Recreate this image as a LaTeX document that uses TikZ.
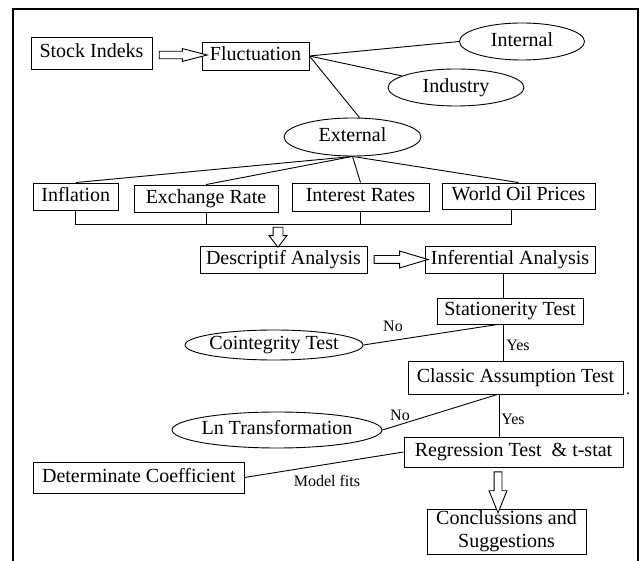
\documentclass[tikz,border=0pt]{standalone}
\usepackage{fontspec}
\setmainfont{Liberation Serif}
\usetikzlibrary{shapes.geometric,shapes.arrows,calc}
\begin{document}
\begin{tikzpicture}[x=1pt,y=-1pt,
  boxbase/.style={draw, line width=0.9pt, inner sep=0pt, align=center, font=\fontsize{20}{23}\selectfont},
  box/.style={boxbase, text height=14pt, text depth=4pt},
  ell/.style={draw, ellipse, line width=0.9pt, inner sep=0pt, text height=14pt, text depth=4pt, font=\fontsize{20}{23}\selectfont},
  lbl/.style={inner sep=0pt, font=\fontsize{16}{19}\selectfont},
  conn/.style={line width=0.9pt},
  hollow/.style={draw, line width=0.9pt, fill=white, single arrow, inner xsep=0pt, sloped, allow upside down, midway},
]
\useasboundingbox (0,0) rectangle (641,561);
\draw[line width=2.5pt] (13,561) -- (13,9) -- (638,9) -- (638,561);

% nodes
\node[box, minimum width=121pt, minimum height=32pt] (si) at (91.5,53) {Stock Indeks};
\node[box, minimum width=107pt, minimum height=28pt] (fl) at (255.5,56) {Fluctuation};
\node[ell, minimum width=125pt, minimum height=37pt] (int) at (522,41.5) {\makebox[0pt]{Internal}};
\node[ell, minimum width=136pt, minimum height=37pt] (ind) at (456,87.5) {\makebox[0pt]{Industry}};
\node[ell, minimum width=137pt, minimum height=38pt] (ext) at (352.5,137) {\makebox[0pt]{External}};
\node[box, minimum width=84.5pt, minimum height=27pt] (infl) at (75.8,196.5) {Inflation};
\node[box, minimum width=144pt, minimum height=27pt] (exr) at (206,198.5) {Exchange Rate};
\node[box, minimum width=137pt, minimum height=28pt] (intr) at (360.5,197) {Interest Rates};
\node[box, minimum width=153pt, minimum height=26pt] (wop) at (518.5,196) {World Oil Prices};
\node[box, minimum width=167pt, minimum height=27pt] (desc) at (283.5,259.5) {Descriptif Analysis};
\node[box, minimum width=170pt, minimum height=27pt] (inf) at (510,259.5) {Inferential Analysis};
\node[box, minimum width=146pt, minimum height=26pt] (sta) at (510,311) {Stationerity Test};
\node[ell, minimum width=178pt, minimum height=30pt] (coint) at (274,345) {\makebox[0pt]{Cointegrity Test}};
\node[box, minimum width=215pt, minimum height=33pt] (cla) at (515.5,377.5) {Classic Assumption Test};
\node[ell, minimum width=210pt, minimum height=36pt] (ln) at (277,430) {\makebox[0pt]{Ln Transformation}};
\node[box, minimum width=219pt, minimum height=30pt] (reg) at (513.5,452) {Regression Test~ \& t-stat};
\node[box, minimum width=210.5pt, minimum height=31pt] (det) at (138.8,477.5) {Determinate Coefficient};
\node[boxbase, minimum width=159pt, minimum height=45pt] (conc) at (506.5,531.5) {Conclussions and\\Suggestions};

% labels
\node[lbl] (no1) at (393,326) {No};
\node[lbl] (yes1) at (518,345) {Yes};
\node[lbl] (no2) at (400,415) {No};
\node[lbl] (yes2) at (513,419) {Yes};
\node[lbl] (mf) at (327,481) {Model fits};
\node[lbl, anchor=base] (dot) at (628,395) {.};

% connectors from Fluctuation
\draw[conn] (fl.east) -- (int.west);
\draw[conn] (fl.east) -- (ind);
\draw[conn] (fl.east) -- (ext.70);

% External fan
\draw[conn] (ext.south) -- (infl.north);
\draw[conn] (ext.south) -- (exr.north);
\draw[conn] (ext.south) -- (intr.north);
\draw[conn] (ext.south) -- (wop.north);

% bracket
\coordinate (brk) at (0,224);
\coordinate (wopb) at ($(wop.south)+(-7,0)$);
\draw[conn] (infl.south) -- (infl.south |- brk) -- (wopb |- brk) -- (wopb);
\draw[conn] (exr.south) -- (exr.south |- brk);
\draw[conn] (intr.south) -- (intr.south |- brk);

% hollow arrows
\coordinate (a1s) at (152,55);
\coordinate (a1e) at (200,55);
\path (a1s) -- (a1e) node[hollow, minimum height=48pt, inner ysep=3.3pt, single arrow head extend=2.7pt, single arrow tip angle=29] (arr1) {};
\coordinate (a2s) at (278,224);
\coordinate (a2e) at (278,244);
\path (a2s) -- (a2e) node[hollow, minimum height=20pt, inner ysep=4.5pt, single arrow head extend=4pt, single arrow tip angle=75] (arr2) {};
\path (desc.east) -- ($(inf.west)+(-3,0)$) node[hollow, minimum height=54pt, inner ysep=3.5pt, single arrow head extend=4.5pt, single arrow tip angle=33] (arr3) {};
\coordinate (vx4) at (498,0);
\path (reg.south -| vx4) -- ($(conc.north -| vx4)+(0,-1)$) node[hollow, minimum height=41pt, inner ysep=3.5pt, single arrow head extend=5pt, single arrow tip angle=44] (arr4) {};

% flow lines
\coordinate (vx1) at (503,0);
\coordinate (vx2) at (499,0);
\draw[conn] (inf.south -| vx1) -- (sta.north -| vx1);
\draw[conn] (sta.south -| vx1) -- (cla.north -| vx1);
\draw[conn] (cla.south -| vx2) -- (reg.north -| vx2);
\draw[conn] (coint.east) -- ($(sta.south)+(-12,0)$);
\draw[conn] (ln.east) -- ($(cla.south)+(-18,0)$);
\draw[conn] (det.east) -- (reg.west);
\end{tikzpicture}
\end{document}
